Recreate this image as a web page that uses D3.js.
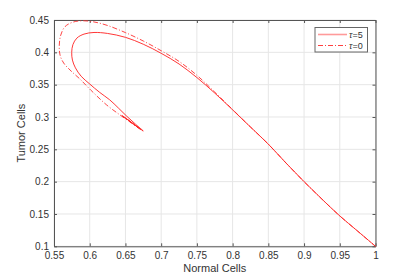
<!DOCTYPE html>
<html>
  <head>
   <meta charset="utf-8" />
   <title>Normal vs Tumor Cells</title>
   <style>
     body { margin: 0; background: #fff; }
     text { font-family: "Liberation Sans", Arial, sans-serif; }
   </style>
  </head>
  <body>
    <svg id="chart" width=415 height=277></svg>

  <script src="https://d3js.org/d3.v7.min.js"></script>
  <script>
  // tick values
  var xTicks = [0.55, 0.6, 0.65, 0.7, 0.75, 0.8, 0.85, 0.9, 0.95, 1];
  var yTicks = [0.1, 0.15, 0.2, 0.25, 0.3, 0.35, 0.4, 0.45];

  // trajectory for tau=5 (normal, tumor)
  var tau5 = [
    [1.000, 0.100], [0.975, 0.1235], [0.950, 0.147], [0.925, 0.173],
    [0.900, 0.200], [0.875, 0.2285], [0.850, 0.258], [0.825, 0.2845],
    [0.800, 0.311], [0.775, 0.337], [0.750, 0.361], [0.725, 0.382],
    [0.700, 0.3985], [0.675, 0.4125], [0.650, 0.4232], [0.625, 0.4292],
    [0.606, 0.4307], [0.592, 0.4282], [0.582, 0.422], [0.5765, 0.412],
    [0.5748, 0.400], [0.5758, 0.388], [0.580, 0.376], [0.588, 0.363],
    [0.600, 0.351], [0.614, 0.338], [0.628, 0.3265], [0.640, 0.314],
    [0.652, 0.301], [0.664, 0.289], [0.675, 0.2783], [0.666, 0.2855],
    [0.650, 0.2985], [0.646, 0.3015], [0.656, 0.2935], [0.668, 0.2835],
    [0.662, 0.2885]
  ];

  // trajectory for tau=0
  var tau0 = [
    [1.000, 0.100], [0.975, 0.1235], [0.950, 0.147], [0.925, 0.173],
    [0.900, 0.200], [0.875, 0.2285], [0.850, 0.258], [0.825, 0.2845],
    [0.800, 0.3115], [0.775, 0.3385], [0.750, 0.3645], [0.725, 0.386],
    [0.700, 0.4025], [0.675, 0.4175], [0.650, 0.4305], [0.625, 0.4415],
    [0.606, 0.447], [0.590, 0.4488], [0.576, 0.4465], [0.5654, 0.4397],
    [0.5595, 0.4268], [0.5574, 0.4113], [0.5584, 0.396], [0.5635, 0.3835],
    [0.574, 0.371], [0.586, 0.359], [0.602, 0.341], [0.6238, 0.3185],
    [0.6424, 0.3031], [0.660, 0.2895], [0.674, 0.2785], [0.664, 0.2865],
    [0.649, 0.2988], [0.645, 0.302], [0.656, 0.2935], [0.666, 0.285]
  ];

  var legendLabels = ["5", "0"];

  (function(){
  var svg = d3.select("#chart");
  svg.append("rect").attr("width", 415).attr("height", 277).attr("fill", "white");

  var pl = 54, pr = 375.5, pt = 20, pb = 246.3;

  var x = d3.scaleLinear().domain([0.55, 1]).range([pl, pr]);
  var y = d3.scaleLinear().domain([0.1, 0.45]).range([pb, pt]);

  // grid
  svg.append("g").selectAll("line").data(xTicks).enter().append("line")
    .attr("x1", function(d){ return x(d); }).attr("x2", function(d){ return x(d); })
    .attr("y1", pt).attr("y2", pb)
    .attr("stroke", "#e6e6e6").attr("stroke-width", 1);
  svg.append("g").selectAll("line").data(yTicks).enter().append("line")
    .attr("y1", function(d){ return y(d); }).attr("y2", function(d){ return y(d); })
    .attr("x1", pl).attr("x2", pr)
    .attr("stroke", "#e6e6e6").attr("stroke-width", 1);

  var fmt = function(d){ return String(+d.toFixed(2)); };

  // axes, ticks pointing inward like matlab
  svg.append("g").attr("class", "ax").attr("transform", "translate(0," + pb + ")")
    .call(d3.axisBottom(x).tickValues(xTicks).tickFormat(fmt).tickSizeInner(-3).tickSizeOuter(0).tickPadding(6));
  svg.append("g").attr("class", "ax").attr("transform", "translate(0," + pt + ")")
    .call(d3.axisTop(x).tickValues(xTicks).tickFormat("").tickSizeInner(-3).tickSizeOuter(0));
  svg.append("g").attr("class", "ax").attr("transform", "translate(" + pl + ",0)")
    .call(d3.axisLeft(y).tickValues(yTicks).tickFormat(fmt).tickSizeInner(-3).tickSizeOuter(0).tickPadding(5));
  svg.append("g").attr("class", "ax").attr("transform", "translate(" + pr + ",0)")
    .call(d3.axisRight(y).tickValues(yTicks).tickFormat("").tickSizeInner(-3).tickSizeOuter(0));

  svg.selectAll(".ax .domain").attr("stroke", "#555").attr("stroke-width", 1);
  svg.selectAll(".ax .tick line").attr("stroke", "#555");
  svg.selectAll(".ax .tick text").attr("fill", "#333").style("font-size", "10px")
    .style("font-family", "Liberation Sans, Arial, sans-serif");

  // curves
  var line = d3.line()
    .x(function(d){ return x(d[0]); })
    .y(function(d){ return y(d[1]); })
    .curve(d3.curveCatmullRom.alpha(0.5));

  svg.append("path").datum(tau0)
    .attr("d", line).attr("fill", "none")
    .attr("stroke", "#ff3030").attr("stroke-width", 0.9)
    .attr("stroke-dasharray", "5,2,1,2");

  svg.append("path").datum(tau5)
    .attr("d", line).attr("fill", "none")
    .attr("stroke", "#ff2020").attr("stroke-width", 0.9);

  // axis labels
  svg.append("text").attr("x", (pl + pr) / 2).attr("y", 272)
    .attr("text-anchor", "middle").attr("fill", "#333")
    .style("font-size", "11px").text("Normal Cells");
  svg.append("text")
    .attr("transform", "translate(25," + ((pt + pb) / 2) + ") rotate(-90)")
    .attr("text-anchor", "middle").attr("fill", "#333")
    .style("font-size", "11px").text("Tumor Cells");

  // legend
  var lg = svg.append("g");
  lg.append("rect").attr("x", 315).attr("y", 27.5).attr("width", 52.5).attr("height", 24.5)
    .attr("fill", "white").attr("stroke", "#666").attr("stroke-width", 1);
  legendLabels.forEach(function(lab, i){
    var yy = 34.5 + i * 11;
    var ln = lg.append("line").attr("x1", 318).attr("x2", 347).attr("y1", yy).attr("y2", yy)
      .attr("stroke", i == 0 ? "#ff9a9a" : "#ff4040").attr("stroke-width", i == 0 ? 1.6 : 1);
    if (i == 1) ln.attr("stroke-dasharray", "5,2,1,2");
    var t = lg.append("text").attr("x", 349).attr("y", yy + 3.5).attr("fill", "#333")
      .style("font-size", "9px").style("font-family", "Liberation Sans, Arial, sans-serif");
    t.append("tspan").style("font-style", "italic").text("\u03c4");
    t.append("tspan").text("=" + lab);
  });
  })();
  </script>
  </body>
</html>
